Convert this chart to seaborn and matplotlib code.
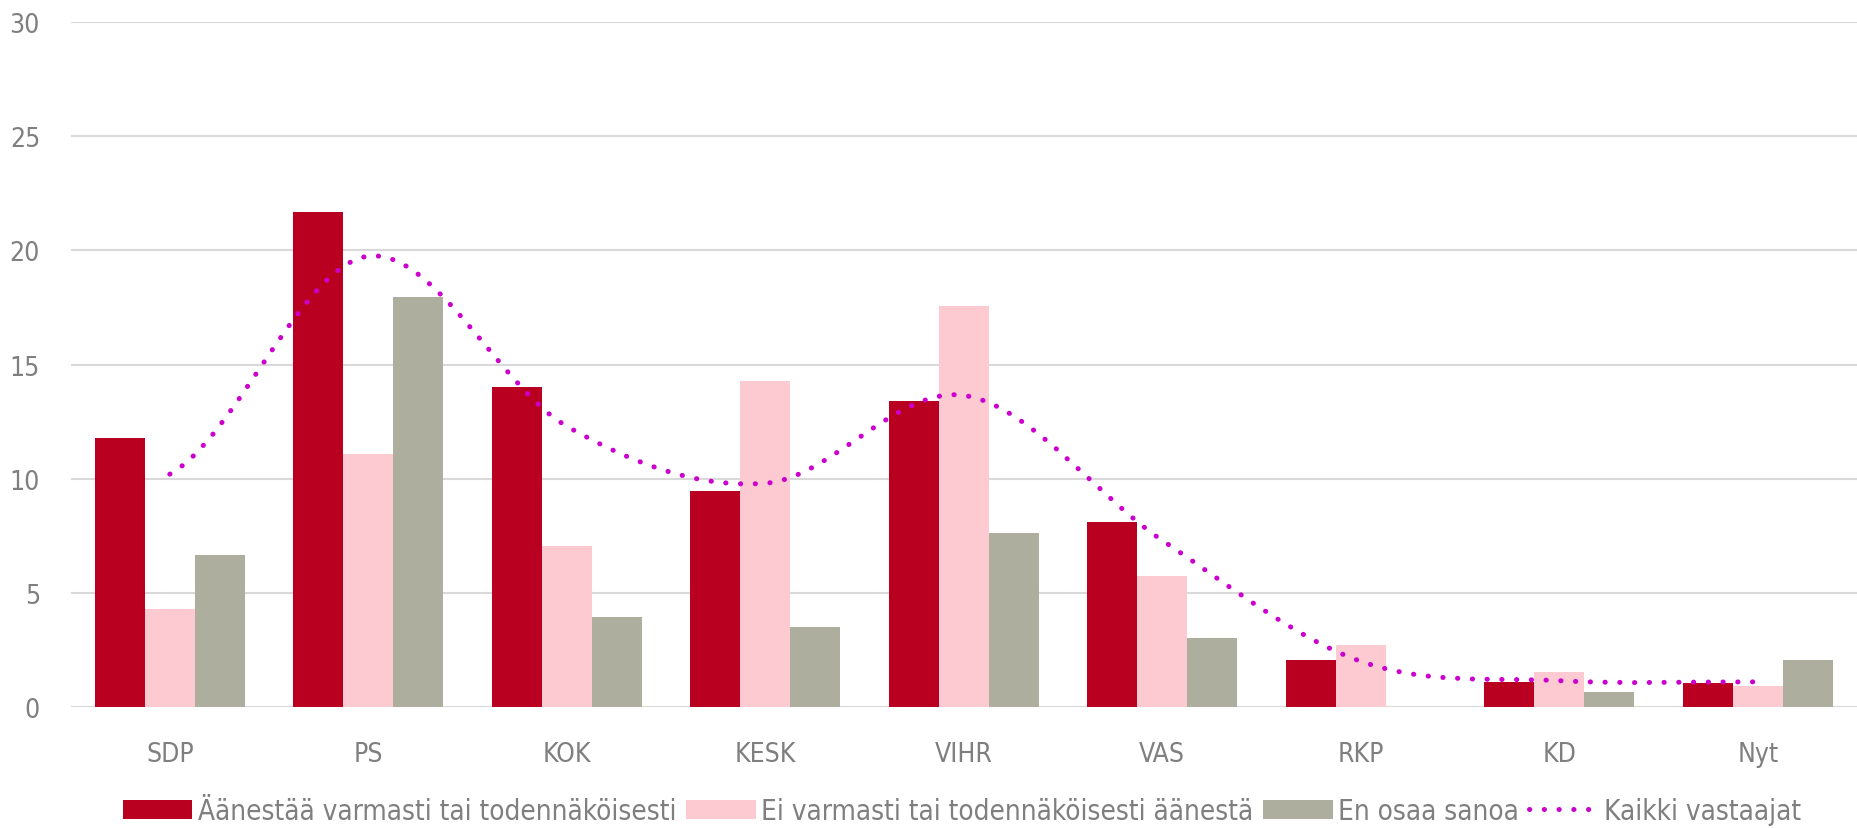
import matplotlib
matplotlib.use("Agg")
import matplotlib.pyplot as plt
import numpy as np
import pandas as pd
import seaborn as sns
from matplotlib import font_manager
from matplotlib.path import Path
from matplotlib.patches import PathPatch, Patch
from matplotlib.lines import Line2D

parties = ["SDP", "PS", "KOK", "KESK", "VIHR", "VAS", "RKP", "KD", "Nyt"]
varmasti = [11.8, 21.7, 14.0, 9.45, 13.4, 8.1, 2.05, 1.1, 1.05]
ei_varmasti = [4.3, 11.1, 7.05, 14.3, 17.55, 5.75, 2.7, 1.55, 0.9]
eos = [6.65, 17.95, 3.95, 3.5, 7.6, 3.0, 0.0, 0.65, 2.05]
kaikki = [10.2, 19.75, 12.3, 9.8, 13.65, 7.3, 2.0, 1.15, 1.1]

series = ["Äänestää varmasti tai todennäköisesti",
          "Ei varmasti tai todennäköisesti äänestä",
          "En osaa sanoa"]
line_label = "Kaikki vastaajat"
colors = ["#BA0020", "#FDCAD2", "#ADAE9D"]
line_color = "#CC00CC"
text_color = "#7F7F7F"

df = pd.DataFrame({
    "puolue": parties * 3,
    "ryhma": [s for s in series for _ in parties],
    "osuus": varmasti + ei_varmasti + eos,
})

# look for a narrow / condensed face among the installed fonts
narrow = None
for f in font_manager.fontManager.ttflist:
    if f.style == "normal" and f.weight in (400, "normal", "regular") and (
            "Narrow" in f.name or "Condensed" in f.name or f.stretch == "condensed"):
        narrow = f
        break

sns.set_style("white")
if narrow is not None:
    plt.rcParams["font.family"] = [narrow.name, "DejaVu Sans"]
    plt.rcParams["font.stretch"] = narrow.stretch
else:
    plt.rcParams["font.family"] = ["DejaVu Sans"]

fig = plt.figure(figsize=(18.57, 8.29), dpi=100)
ax = fig.add_axes([0.038, 0.146, 0.962, 0.826])

sns.barplot(data=df, x="puolue", y="osuus", hue="ryhma", order=parties,
            hue_order=series, palette=colors, width=0.757, gap=0,
            saturation=1, linewidth=0, legend=False, ax=ax)

# smoothed line through the category centres (cubic Bezier segments)
xs = np.arange(len(parties), dtype=float)
ys = np.array(kaikki, dtype=float)
verts = [(xs[0], ys[0])]
codes = [Path.MOVETO]
n = len(xs)
for i in range(n - 1):
    y_prev = ys[i - 1] if i > 0 else ys[i]
    y_next2 = ys[i + 2] if i + 2 < n else ys[i + 1]
    c1 = (xs[i] + 1 / 3, ys[i] + (ys[i + 1] - y_prev) / 6)
    c2 = (xs[i + 1] - 1 / 3, ys[i + 1] - (y_next2 - ys[i]) / 6)
    verts += [c1, c2, (xs[i + 1], ys[i + 1])]
    codes += [Path.CURVE4] * 3
dots = (0, (0.05, 2.9))
curve = PathPatch(Path(verts, codes), facecolor="none", edgecolor=line_color,
                  linewidth=3.6, linestyle=dots, capstyle="round", zorder=4)
ax.add_patch(curve)

ax.set_ylim(0, 30)
ax.set_xlim(-0.5, len(parties) - 0.5)
ax.set_yticks(range(0, 31, 5))
ax.yaxis.grid(True, color="#D9D9D9", linewidth=1.5)
ax.set_axisbelow(True)
sns.despine(ax=ax, left=True, bottom=True)
ax.tick_params(axis="y", length=0, pad=22, labelsize=19, labelcolor=text_color)
ax.tick_params(axis="x", length=0, pad=24.5, labelsize=19, labelcolor=text_color)
ax.set_xlabel("")
ax.set_ylabel("")

handles = [Patch(facecolor=c, edgecolor="none") for c in colors]
handles.append(Line2D([0], [0], color=line_color, linewidth=3.6,
                      linestyle=dots, dash_capstyle="round"))
leg = fig.legend(handles, series + [line_label], loc="lower center",
                 bbox_to_anchor=(0.518, -0.01), ncol=4, frameon=False,
                 fontsize=20, handlelength=2.5, handleheight=0.7,
                 handletextpad=0.2, columnspacing=0.35, borderaxespad=0)
for t in leg.get_texts():
    t.set_color(text_color)

fig.savefig("out.png", dpi=100)
